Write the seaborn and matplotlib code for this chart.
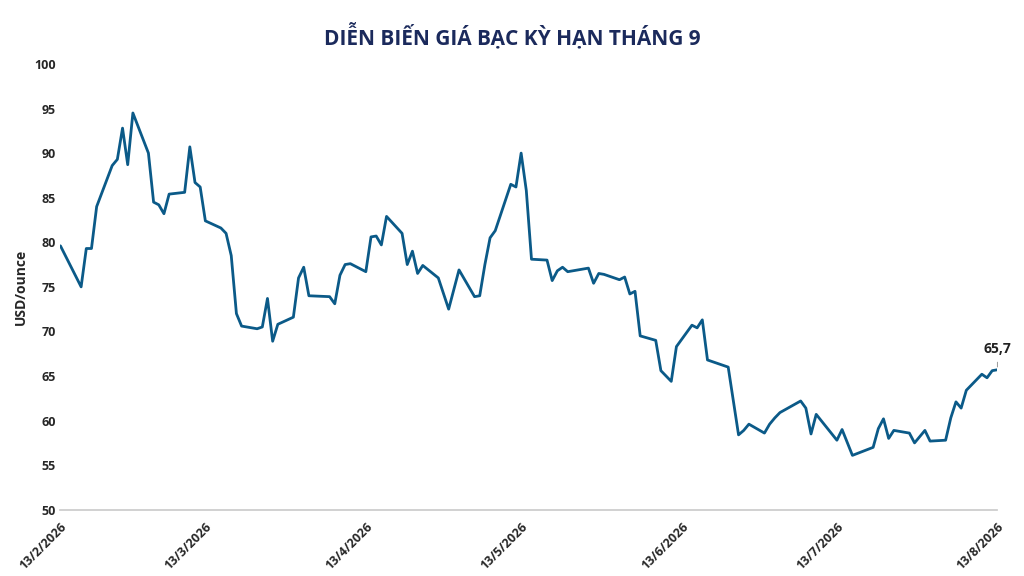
import matplotlib
matplotlib.use("Agg")
import matplotlib.pyplot as plt
import matplotlib.dates as mdates
import seaborn as sns
import pandas as pd

start = "2026-02-13"
day_offsets = [0,4,5,6,7,10,11,12,13,14,17,18,19,20,21,24,25,26,27,28,31,32,33,34,35,38,39,40,41,42,
               45,46,47,48,52,53,54,55,56,59,60,61,62,63,66,67,68,69,70,73,75,77,80,81,82,83,84,87,88,89,
               90,91,94,95,96,97,98,102,103,104,105,108,109,110,111,112,115,116,118,119,122,123,124,125,129,
               131,132,133,136,137,138,139,143,144,145,146,150,151,153,157,158,159,160,161,164,165,167,168,
               171,172,173,174,175,178,179,180,181]
prices = [79.6,75.0,79.3,79.3,84.0,88.6,89.3,92.8,88.7,94.5,90.0,84.5,84.2,83.2,85.4,85.6,90.7,86.7,86.2,82.4,
          81.6,81.0,78.5,72.0,70.6,70.3,70.5,73.7,68.9,70.8,71.6,76.0,77.2,74.0,73.9,73.1,76.3,77.5,77.6,76.7,
          80.6,80.7,79.7,82.9,81.0,77.5,79.0,76.5,77.4,76.0,72.5,76.9,73.9,74.0,77.5,80.5,81.3,86.5,86.2,90.0,
          85.8,78.1,78.0,75.7,76.8,77.2,76.7,77.1,75.4,76.5,76.4,75.8,76.1,74.2,74.5,69.5,69.0,65.6,64.4,68.3,
          70.7,70.4,71.3,66.8,66.0,58.4,58.9,59.6,58.6,59.6,60.3,60.9,62.2,61.4,58.5,60.7,57.8,59.0,56.1,57.0,
          59.1,60.2,58.0,58.9,58.6,57.5,58.9,57.7,57.8,60.3,62.1,61.4,63.4,65.2,64.8,65.6,65.7]
tick_dates = ["2026-02-13","2026-03-13","2026-04-13","2026-05-13","2026-06-13","2026-07-13","2026-08-13"]
tick_labels = ["13/2/2026","13/3/2026","13/4/2026","13/5/2026","13/6/2026","13/7/2026","13/8/2026"]

df = pd.DataFrame({"date": pd.Timestamp(start) + pd.to_timedelta(day_offsets, unit="D"), "price": prices})

sns.set_theme(style="white")
plt.rcParams['font.family'] = ['Open Sans', 'DejaVu Sans']
fig = plt.figure(figsize=(10.24, 5.76), dpi=100)
ax = fig.add_axes([0.059, 0.115, 0.915, 0.774])
sns.lineplot(data=df, x="date", y="price", ax=ax, color="#0b5a88", linewidth=2)
ax.set_ylim(50, 100)
ax.set_yticks(range(50, 101, 5))
ax.set_xlim(pd.Timestamp(tick_dates[0]), pd.Timestamp(tick_dates[-1]))
ax.set_xticks(pd.to_datetime(tick_dates))
ax.set_xticklabels(tick_labels, rotation=45, ha="right", rotation_mode="anchor", fontsize=9, fontweight="bold")
for t in ax.get_yticklabels():
    t.set_fontsize(9); t.set_fontweight("bold")
ax.set_xlabel("")
ax.set_ylabel("USD/ounce", fontsize=10, fontweight="bold")
for s in ["top", "right", "left"]:
    ax.spines[s].set_visible(False)
ax.spines["bottom"].set_color("#cccccc")
ax.tick_params(axis="x", length=4, color="#cccccc")
ax.tick_params(axis="y", length=0)
last = df.iloc[-1]
ax.annotate("65,7", xy=(last["date"], last["price"]), xytext=(-10, 12), textcoords="offset points",
            fontsize=10, fontweight="bold", color="#222222",
            arrowprops=dict(arrowstyle="-", color="#888888", lw=0.6))
fig.suptitle("DIỄN BIẾN GIÁ BẠC KỲ HẠN THÁNG 9", y=0.96, fontsize=15, fontweight="bold", color="#1b2a5c")
fig.savefig("out.png", dpi=100)
